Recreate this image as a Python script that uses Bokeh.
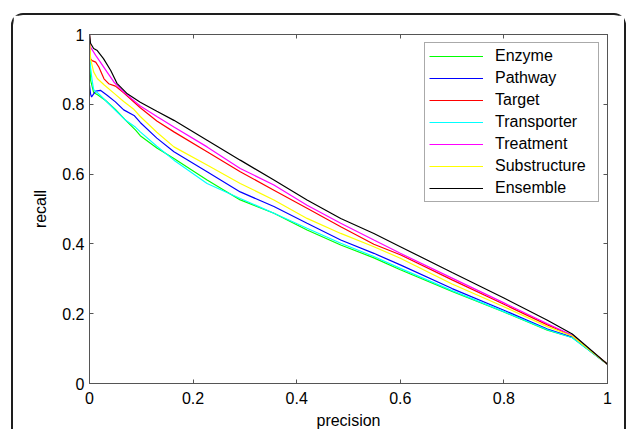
from bokeh.plotting import figure
from bokeh.models import LinearAxis, FixedTicker, CustomJSTickFormatter, Range1d
from bokeh.embed import file_html
from bokeh.resources import INLINE

# ---------------- data ----------------
series_names = ["Enzyme", "Pathway", "Target", "Transporter", "Treatment", "Substructure", "Ensemble"]
series_colors = ["#00ff00", "#0000ff", "#ff0000", "#00ffff", "#ff00ff", "#ffff00", "#000000"]

enzyme_precision = [0, 0.002, 0.008, 0.017, 0.031, 0.05, 0.07, 0.089, 0.098, 0.13, 0.163, 0.227, 0.291, 0.356, 0.42, 0.485, 0.549, 0.6, 0.7, 0.8, 0.884, 0.932, 1.0]
enzyme_recall = [0.96, 0.869, 0.834, 0.826, 0.811, 0.785, 0.754, 0.726, 0.71, 0.675, 0.645, 0.583, 0.526, 0.488, 0.44, 0.397, 0.36, 0.326, 0.264, 0.205, 0.153, 0.132, 0.055]

pathway_precision = [0, 0.002, 0.004, 0.008, 0.012, 0.021, 0.034, 0.05, 0.066, 0.086, 0.098, 0.13, 0.163, 0.227, 0.291, 0.356, 0.42, 0.485, 0.549, 0.6, 0.7, 0.8, 0.884, 0.932, 1.0]
pathway_recall = [0.855, 0.83, 0.821, 0.83, 0.838, 0.84, 0.826, 0.807, 0.784, 0.768, 0.748, 0.703, 0.664, 0.607, 0.549, 0.507, 0.459, 0.411, 0.373, 0.34, 0.272, 0.21, 0.156, 0.133, 0.055]

target_precision = [0, 0.002, 0.005, 0.012, 0.018, 0.028, 0.037, 0.05, 0.066, 0.098, 0.13, 0.163, 0.227, 0.291, 0.356, 0.42, 0.485, 0.549, 0.6, 0.7, 0.8, 0.884, 0.932, 1.0]
target_recall = [1.0, 0.93, 0.925, 0.921, 0.907, 0.873, 0.859, 0.852, 0.833, 0.79, 0.752, 0.721, 0.664, 0.607, 0.554, 0.502, 0.449, 0.399, 0.369, 0.297, 0.227, 0.168, 0.137, 0.055]

transporter_precision = [0, 0.001, 0.002, 0.005, 0.008, 0.017, 0.031, 0.05, 0.07, 0.089, 0.098, 0.13, 0.163, 0.227, 0.291, 0.356, 0.42, 0.485, 0.549, 0.6, 0.7, 0.8, 0.884, 0.932, 1.0]
transporter_recall = [1.0, 0.95, 0.906, 0.869, 0.842, 0.831, 0.811, 0.783, 0.754, 0.734, 0.721, 0.68, 0.64, 0.573, 0.53, 0.488, 0.445, 0.402, 0.364, 0.33, 0.266, 0.206, 0.154, 0.131, 0.055]

treatment_precision = [0, 0.002, 0.012, 0.021, 0.034, 0.047, 0.066, 0.098, 0.13, 0.163, 0.227, 0.291, 0.356, 0.42, 0.485, 0.549, 0.6, 0.7, 0.8, 0.884, 0.932, 1.0]
treatment_recall = [1.0, 0.964, 0.94, 0.921, 0.892, 0.864, 0.835, 0.795, 0.765, 0.735, 0.678, 0.616, 0.569, 0.511, 0.459, 0.411, 0.373, 0.302, 0.231, 0.171, 0.138, 0.055]

substructure_precision = [0, 0.002, 0.008, 0.015, 0.028, 0.047, 0.066, 0.086, 0.098, 0.13, 0.163, 0.227, 0.291, 0.356, 0.42, 0.485, 0.549, 0.6, 0.7, 0.8, 0.884, 0.932, 1.0]
substructure_recall = [1.0, 0.93, 0.893, 0.874, 0.856, 0.832, 0.808, 0.785, 0.765, 0.72, 0.678, 0.626, 0.573, 0.526, 0.473, 0.43, 0.392, 0.359, 0.285, 0.22, 0.163, 0.136, 0.055]

ensemble_precision = [0, 0.002, 0.008, 0.015, 0.027, 0.041, 0.053, 0.073, 0.098, 0.13, 0.163, 0.227, 0.291, 0.356, 0.42, 0.485, 0.549, 0.6, 0.7, 0.8, 0.884, 0.932, 1.0]
ensemble_recall = [1.0, 0.975, 0.96, 0.954, 0.931, 0.897, 0.86, 0.83, 0.806, 0.78, 0.754, 0.697, 0.64, 0.583, 0.526, 0.473, 0.43, 0.392, 0.318, 0.245, 0.181, 0.142, 0.055]

series_precision = [enzyme_precision, pathway_precision, target_precision, transporter_precision,
                    treatment_precision, substructure_precision, ensemble_precision]
series_recall = [enzyme_recall, pathway_recall, target_recall, transporter_recall,
                 treatment_recall, substructure_recall, ensemble_recall]

tick_values = [0, 0.2, 0.4, 0.6, 0.8, 1.0]
x_label = "precision"
y_label = "recall"

# ---------------- figure ----------------
FONT = "Liberation Sans"
AXIS_COLOR = "#555555"

p = figure(width=615, height=416, output_backend="svg", toolbar_location=None,
           x_range=Range1d(0, 1), y_range=Range1d(0, 1),
           min_border_left=76, min_border_top=19, min_border_right=21, min_border_bottom=47)
p.margin = (13, 0, 0, 11)
p.styles = {"border-left": "2px solid #1e1e1e", "border-top": "2px solid #1e1e1e",
            "border-right": "2px solid #1e1e1e",
            "border-top-left-radius": "12px", "border-top-right-radius": "12px"}

p.xgrid.visible = False
p.ygrid.visible = False
p.outline_line_color = AXIS_COLOR
p.outline_line_width = 1
p.background_fill_color = "white"
p.border_fill_color = "white"

for name, color, xs, ys in zip(series_names, series_colors, series_precision, series_recall):
    p.line(xs, ys, line_color=color, line_width=1.2, legend_label=name)

fmt = CustomJSTickFormatter(code="return (Math.round(tick*10)/10).toString();")
blank = CustomJSTickFormatter(code="return '';")

def style_axis(ax, labels=True):
    ax.ticker = FixedTicker(ticks=tick_values)
    ax.axis_line_color = AXIS_COLOR
    ax.major_tick_line_color = AXIS_COLOR
    ax.major_tick_in = 4
    ax.major_tick_out = 0
    ax.minor_tick_line_color = None
    ax.major_label_text_font = FONT
    ax.major_label_text_color = "black"
    if labels:
        ax.formatter = fmt
        ax.major_label_text_font_size = "16px"
        ax.major_label_standoff = 3
    else:
        ax.formatter = blank
        ax.major_label_text_font_size = "0px"
        ax.major_label_standoff = 0

style_axis(p.xaxis[0])
style_axis(p.yaxis[0])
p.xaxis[0].axis_label = x_label
p.yaxis[0].axis_label = y_label
for ax in (p.xaxis[0], p.yaxis[0]):
    ax.axis_label_text_font = FONT
    ax.axis_label_text_font_size = "16px"
    ax.axis_label_text_font_style = "normal"
    ax.axis_label_text_color = "black"
p.xaxis[0].major_label_standoff = 8
p.xaxis[0].axis_label_standoff = 5
p.yaxis[0].axis_label_standoff = 10
p.yaxis[0].major_label_standoff = 5

top_axis = LinearAxis()
style_axis(top_axis, labels=False)
p.add_layout(top_axis, "above")
right_axis = LinearAxis()
style_axis(right_axis, labels=False)
p.add_layout(right_axis, "right")

lg = p.legend[0]
lg.location = "top_right"
lg.margin = 8
lg.padding = 4
lg.spacing = 4
lg.glyph_width = 54
lg.glyph_height = 18
lg.label_height = 18
lg.label_width = 99
lg.label_standoff = 12
lg.label_text_font = FONT
lg.label_text_font_size = "16px"
lg.label_text_color = "black"
lg.border_line_color = AXIS_COLOR
lg.border_line_width = 1
lg.background_fill_color = "white"
lg.background_fill_alpha = 1

open("out.html", "w").write(file_html(p, INLINE))
